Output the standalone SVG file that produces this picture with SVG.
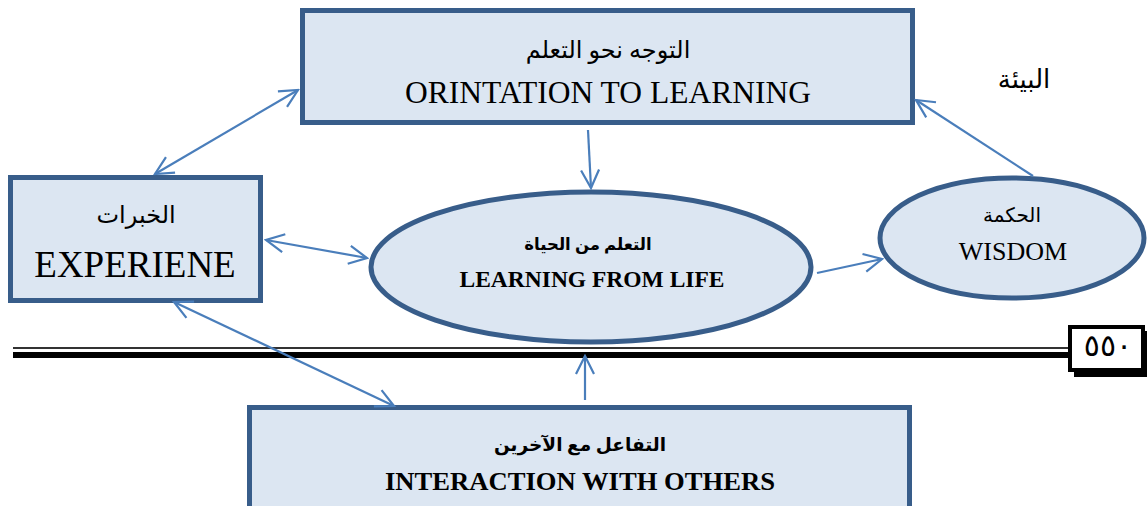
<svg xmlns="http://www.w3.org/2000/svg" width="1147" height="506" viewBox="0 0 1147 506">
<style>
.node{fill:#dce6f2;stroke:#385d8a;stroke-width:5}
.c{stroke:#4a7ebb;stroke-width:2.2;fill:none}
.en{font-family:"Liberation Serif","Times New Roman",serif;fill:#000;text-anchor:middle}
.ar{font-family:"Liberation Serif","DejaVu Sans","Noto Sans",serif;fill:#000;text-anchor:middle}
.b{font-weight:bold}
</style>
<defs>
<marker id="ah" markerUnits="userSpaceOnUse" viewBox="-20 -11 22 22" markerWidth="22" markerHeight="22" refX="0" refY="0" orient="auto-start-reverse">
<path d="M-18,-9 L0,0 L-18,9" fill="none" stroke="#4a7ebb" stroke-width="2.2"/>
</marker>
</defs>
<rect width="1147" height="506" fill="#fff"/>

<g id="page-rule">
<rect x="13" y="347.2" width="1058" height="1.6" fill="#000"/>
<rect x="13" y="352" width="1058" height="6" fill="#000"/>
</g>
<g id="page-number">
<rect x="1074" y="331" width="73" height="46" fill="#000"/>
<rect x="1070" y="327" width="73" height="43" fill="#fff" stroke="#000" stroke-width="4"/>
<text x="1108" y="356" class="ar" font-size="30" letter-spacing="4">٥٥٠</text>
</g>

<g id="orientation">
<rect class="node" x="302.5" y="10.5" width="610" height="112"/>
<text x="608" y="58" class="ar" font-size="24">التوجه نحو التعلم</text>
<text x="608" y="103" class="en" font-size="31.5">ORINTATION TO LEARNING</text>
</g>

<g id="experience">
<rect class="node" x="10.5" y="177.5" width="250" height="123"/>
<text x="136" y="223" class="ar" font-size="24">الخبرات</text>
<text x="135" y="277" class="en" font-size="37">EXPERIENE</text>
</g>

<g id="learning">
<ellipse class="node" cx="591" cy="267" rx="220" ry="75"/>
<text x="588" y="250" class="ar b" font-size="16.5">التعلم من الحياة</text>
<text x="592" y="287" class="en b" font-size="23.5">LEARNING FROM LIFE</text>
</g>

<g id="wisdom">
<ellipse class="node" cx="1012" cy="238" rx="132" ry="60"/>
<text x="1012" y="222" class="ar" font-size="20">الحكمة</text>
<text x="1013" y="260" class="en" font-size="26">WISDOM</text>
</g>

<g id="environment">
<text x="1024" y="88" class="ar" font-size="26">البيئة</text>
</g>

<g id="interaction">
<rect class="node" x="249.5" y="407.5" width="660" height="130"/>
<text x="580" y="451" class="ar b" font-size="18.5">التفاعل مع الآخرين</text>
<text x="580" y="490" class="en b" font-size="25" textLength="390" lengthAdjust="spacingAndGlyphs">INTERACTION WITH OTHERS</text>
</g>

<g id="connectors">
<line class="c" x1="155" y1="174" x2="298" y2="90" marker-start="url(#ah)" marker-end="url(#ah)"/>
<line class="c" x1="266" y1="240" x2="367" y2="258" marker-start="url(#ah)" marker-end="url(#ah)"/>
<line class="c" x1="588" y1="130" x2="591" y2="188" marker-end="url(#ah)"/>
<line class="c" x1="817" y1="273" x2="882" y2="259" marker-end="url(#ah)"/>
<line class="c" x1="1033" y1="176" x2="916" y2="100" marker-end="url(#ah)"/>
<line class="c" x1="174" y1="302" x2="394" y2="406" marker-start="url(#ah)" marker-end="url(#ah)"/>
<line class="c" x1="585" y1="400" x2="585" y2="356" marker-end="url(#ah)"/>
</g>
</svg>
